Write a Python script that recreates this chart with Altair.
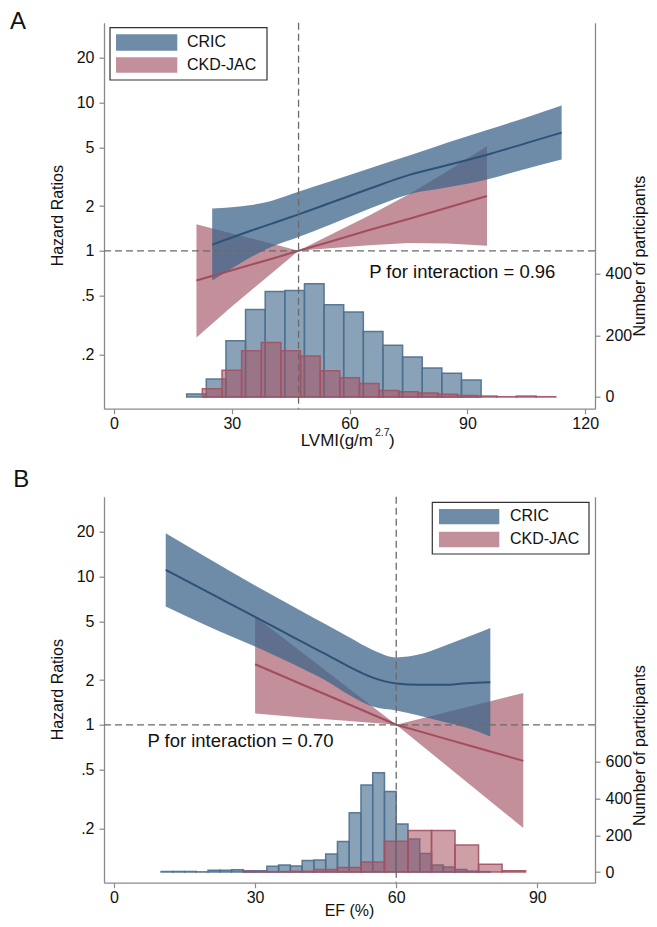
import altair as alt
import pandas as pd

FONT = "Liberation Sans"
W = 491            # plot width (both panels)
HP = 386           # height of one panel's plot area
GAP = 88           # distance between panel A bottom and panel B top
H = 2 * HP + GAP   # whole drawing area
A0, A1 = 0, HP            # panel A vertical pixel span
B0, B1 = HP + GAP, H      # panel B vertical pixel span

# ---------------- Panel A data (LVMI) ----------------
a_cric_x = [25, 30, 35, 40, 47, 55, 65, 75, 85, 95, 105, 114]
a_cric_hr = [1.10, 1.23, 1.37, 1.52, 1.76, 2.10, 2.62, 3.24, 3.79, 4.45, 5.33, 6.28]
a_cric_lo = [0.63, 0.76, 0.91, 1.06, 1.24, 1.50, 1.92, 2.40, 2.68, 3.03, 3.58, 4.13]
a_cric_hi = [1.93, 1.97, 2.04, 2.17, 2.50, 2.93, 3.59, 4.37, 5.37, 6.53, 7.94, 9.55]

a_jac_x = [21, 30, 40, 47, 55, 65, 75, 85, 95]
a_jac_hr = [0.63, 0.74, 0.88, 1.0, 1.15, 1.38, 1.64, 1.96, 2.34]
a_jac_lo = [0.26, 0.42, 0.70, 1.0, 1.04, 1.09, 1.13, 1.12, 1.08]
a_jac_hi = [1.51, 1.31, 1.12, 1.0, 1.28, 1.73, 2.40, 3.45, 5.09]

a_hist_width = 5
a_hist_cric_left = [18.5, 23.5, 28.5, 33.5, 38.5, 43.5, 48.5, 53.5, 58.5, 63.5,
                    68.5, 73.5, 78.5, 83.5, 88.5]
a_hist_cric_n = [10, 58, 182, 284, 342, 345, 367, 299, 276, 212, 168, 130, 94, 77, 55]
a_hist_jac_left = [22.5, 27.5, 32.5, 37.5, 42.5, 47.5, 52.5, 57.5, 62.5, 67.5,
                   72.5, 77.5, 82.5, 87.5, 92.5, 97.5, 102.5, 107.5]
a_hist_jac_n = [27, 87, 150, 177, 150, 133, 85, 62, 44, 21, 17, 13, 9, 5, 3, 1, 3, 1]

# ---------------- Panel B data (EF) ----------------
b_cric_x = [11, 20, 30, 40, 45, 50, 55, 60, 65, 70, 75, 80]
b_cric_hr = [11.1, 7.85, 5.35, 3.62, 3.00, 2.46, 2.08, 1.90, 1.86, 1.86, 1.91, 1.94]
b_cric_lo = [6.28, 4.62, 3.37, 2.40, 1.99, 1.59, 1.33, 1.25, 1.15, 1.05, 0.955, 0.834]
b_cric_hi = [19.6, 13.3, 8.69, 5.82, 4.76, 3.89, 3.20, 2.85, 2.99, 3.39, 3.89, 4.49]

b_jac_x = [30, 40, 50, 60, 70, 80, 87]
b_jac_hr = [2.56, 1.87, 1.37, 1.0, 0.813, 0.661, 0.571]
b_jac_lo = [1.19, 1.12, 1.06, 1.0, 0.552, 0.305, 0.201]
b_jac_hi = [5.37, 3.07, 1.75, 1.0, 1.20, 1.44, 1.64]

b_hist_cric_width = 2.5
b_hist_cric_left = [10, 12.5, 15, 17.5, 20, 22.5, 25, 27.5, 30, 32.5, 35, 37.5, 40, 42.5,
                    45, 47.5, 50, 52.5, 55, 57.5, 60, 62.5, 65, 67.5, 70, 72.5, 75, 77.5]
b_hist_cric_n = [3, 3, 3, 1, 9, 9, 12, 7, 7, 31, 38, 33, 62, 65,
                 98, 166, 322, 473, 540, 437, 261, 179, 101, 38, 27, 14, 5, 2]
b_hist_jac_width = 5
b_hist_jac_left = [27.5, 32.5, 37.5, 42.5, 47.5, 52.5, 57.5, 62.5, 67.5, 72.5, 77.5, 82.5]
b_hist_jac_n = [3, 2, 4, 14, 25, 54, 167, 225, 226, 147, 42, 7]

groups = ["CRIC", "CKD-JAC"]
hr_ticks = [0.2, 0.5, 1, 2, 5, 10, 20]

# ---------------- styles ----------------
C_BAND = {"CRIC": "#3e6589", "CKD-JAC": "#9b4456"}
O_BAND = {"CRIC": 0.75, "CKD-JAC": 0.6}
C_LINE = {"CRIC": "#2c5278", "CKD-JAC": "#a24d5e"}
C_HIST = {"CRIC": "#5b7e9b", "CKD-JAC": "#a85060"}
O_HIST = {"CRIC": 0.72, "CKD-JAC": 0.55}
C_HIST_EDGE = {"CRIC": "#4b6f8e", "CKD-JAC": "#a25262"}
C_AXIS = "#8a8a8a"
C_REF = "#6a6a6a"
C_TEXT = "#111111"


def curve_df(x, hr, lo, hi):
    return pd.DataFrame({"x": x, "hr": hr, "lo": lo, "hi": hi})


def hist_df(left, n, width):
    return pd.DataFrame({"x0": left, "x1": [v + width for v in left], "n": n, "b": [0] * len(n)})


def label(txt, x, y, size=16, align="left", baseline="alphabetic", angle=None):
    kw = dict(align=align, baseline=baseline, fontSize=size, color=C_TEXT)
    if angle is not None:
        kw["angle"] = angle
    return (alt.Chart(pd.DataFrame({"t": [txt]}))
            .mark_text(**kw)
            .encode(x=alt.value(x), y=alt.value(y), text="t:N"))


def panel(cfg):
    top, bot = cfg["span"]
    xs = alt.Scale(domain=cfg["xdom"], range=[0, W], nice=False, zero=False)
    xaxis = alt.Axis(orient="bottom", values=cfg["xticks"], format="d", tickSize=5,
                     labelPadding=2, labelFontSize=16, title=None, offset=bot - H,
                     labelFlush=False)
    hs = alt.Scale(type="log", domain=[0.086, 34.6], range=[bot, top], nice=False)
    haxis = alt.Axis(orient="left", values=hr_ticks, title=None,
                     labelExpr="datum.value < 1 ? replace(format(datum.value, '.1f'), '0.', '.') : format(datum.value, 'd')",
                     tickSize=5, labelPadding=5)
    cs = alt.Scale(domain=cfg["cdom"], range=[bot, top], nice=False, zero=False)
    caxis = alt.Axis(orient="right", values=cfg["cticks"], format="d", title=None,
                     tickSize=5, labelPadding=5)

    def X(f, axis=True):
        return alt.X(f, type="quantitative", scale=xs, axis=xaxis if axis else None)

    def YH(f):
        return alt.Y(f, type="quantitative", scale=hs, axis=haxis)

    # histograms (right axis)
    hist_layers = []
    for g in groups:
        d = cfg["hist"][g]
        hist_layers.append(
            alt.Chart(d).mark_rect(fill=C_HIST[g], fillOpacity=O_HIST[g],
                                   stroke=C_HIST_EDGE[g], strokeWidth=1.5, strokeOpacity=0.9)
            .encode(x=X("x0", axis=False), x2="x1:Q",
                    y=alt.Y("n:Q", scale=cs, axis=caxis), y2="b:Q")
        )
    count_layer = alt.layer(*hist_layers)

    # HR curves (left axis)
    layers = []
    for g in ["CKD-JAC", "CRIC"]:
        d = cfg["curve"][g]
        interp = "monotone" if g == "CRIC" else "linear"
        layers.append(
            alt.Chart(d).mark_area(color=C_BAND[g], opacity=O_BAND[g], interpolate=interp)
            .encode(x=X("x"), y=YH("lo"), y2="hi:Q")
        )
    for g in ["CKD-JAC", "CRIC"]:
        d = cfg["curve"][g]
        interp = "monotone" if g == "CRIC" else "linear"
        layers.append(
            alt.Chart(d).mark_line(color=C_LINE[g], strokeWidth=2, interpolate=interp)
            .encode(x=X("x"), y=YH("hr"))
        )
    layers.append(
        alt.Chart(pd.DataFrame({"x": [cfg["vline"]]}))
        .mark_rule(color=C_REF, strokeDash=[7, 4], strokeWidth=1.3)
        .encode(x=X("x"), y=alt.value(top), y2=alt.value(bot))
    )
    layers.append(
        alt.Chart(pd.DataFrame({"y": [1.0]}))
        .mark_rule(color=C_REF, strokeDash=[7, 4], strokeWidth=1.3)
        .encode(y=YH("y"), x=alt.value(0), x2=alt.value(W))
    )
    layers.append(
        alt.Chart(pd.DataFrame({"x": [cfg["p_pos"][0]], "y": [cfg["p_pos"][1]], "t": [cfg["p_text"]]}))
        .mark_text(align="left", baseline="middle", fontSize=18.5, color=C_TEXT)
        .encode(x=X("x"), y=YH("y"), text="t:N")
    )
    # legend (drawn box)
    lg = cfg["legend"]
    layers.append(
        alt.Chart(pd.DataFrame({"k": [0]}))
        .mark_rect(fill="white", stroke="#333333", strokeWidth=1.2)
        .encode(x=alt.value(lg["box"][0]), x2=alt.value(lg["box"][1]),
                y=alt.value(top + lg["box"][2]), y2=alt.value(top + lg["box"][3]))
    )
    for i, g in enumerate(groups):
        sy0, sy1 = lg["sw_y"][i]
        layers.append(
            alt.Chart(pd.DataFrame({"k": [g]}))
            .mark_rect(fill=C_BAND[g], opacity=O_BAND[g])
            .encode(x=alt.value(lg["sw_x"][0]), x2=alt.value(lg["sw_x"][1]),
                    y=alt.value(top + sy0), y2=alt.value(top + sy1))
        )
        layers.append(label(g, lg["tx"], top + lg["ty"][i], baseline="middle"))
    # panel letter
    layers.append(label(cfg["letter"], cfg["letter_pos"][0], top + cfg["letter_pos"][1], size=24))
    # axis titles as text
    layers.append(label("Hazard Ratios", -46.5, top + HP / 2, align="center",
                        baseline="middle", angle=270))
    layers.append(label("Number of participants", W + 45, top + cfg["ctitle_y"],
                        align="center", baseline="middle", angle=270))
    for piece in cfg["xtitle_pieces"]:
        txt, px, py, fs, al, bl = piece
        layers.append(label(txt, px, top + py, size=fs, align=al, baseline=bl))
    hr_layer = alt.layer(*layers)
    return [count_layer, hr_layer]


cfgA = dict(
    span=(A0, A1),
    xdom=[-2.55, 122.5], xticks=[0, 30, 60, 90, 120],
    cdom=[-38, 1214], cticks=[0, 200, 400], ctitle_y=233.5,
    hist={"CRIC": hist_df(a_hist_cric_left, a_hist_cric_n, a_hist_width),
          "CKD-JAC": hist_df(a_hist_jac_left, a_hist_jac_n, a_hist_width)},
    curve={"CRIC": curve_df(a_cric_x, a_cric_hr, a_cric_lo, a_cric_hi),
           "CKD-JAC": curve_df(a_jac_x, a_jac_hr, a_jac_lo, a_jac_hi)},
    vline=47, p_text="P for interaction = 0.96", p_pos=(65.0, 0.718),
    legend=dict(box=(6, 163, 5, 57.3), sw_x=(12, 73.3), sw_y=[(11.6, 28), (34.6, 50)],
                tx=83, ty=[19, 42]),
    letter="A", letter_pos=(-94, 6.3),
    xtitle_pieces=[("LVMI(g/m", 269, 423, 17, "right", "alphabetic"),
                   ("2.7", 271, 413.5, 10.5, "left", "alphabetic"),
                   (")", 285, 423, 17, "left", "alphabetic")],
)
cfgB = dict(
    span=(B0, B1),
    xdom=[-2.12, 102.25], xticks=[0, 30, 60, 90],
    cdom=[-58, 2040], cticks=[0, 200, 400, 600], ctitle_y=249,
    hist={"CRIC": hist_df(b_hist_cric_left, b_hist_cric_n, b_hist_cric_width),
          "CKD-JAC": hist_df(b_hist_jac_left, b_hist_jac_n, b_hist_jac_width)},
    curve={"CRIC": curve_df(b_cric_x, b_cric_hr, b_cric_lo, b_cric_hi),
           "CKD-JAC": curve_df(b_jac_x, b_jac_hr, b_jac_lo, b_jac_hi)},
    vline=60, p_text="P for interaction = 0.70", p_pos=(7.1, 0.78),
    legend=dict(box=(328.3, 485, 5.6, 57.3), sw_x=(335, 395.3), sw_y=[(12.3, 27.6), (35, 50.6)],
                tx=406, ty=[19.8, 42]),
    letter="B", letter_pos=(-90.7, -10),
    xtitle_pieces=[("EF (%)", W / 2, HP + 28, 16, "center", "middle")],
)

chart = (alt.layer(*(panel(cfgA) + panel(cfgB)))
         .resolve_scale(x="independent", y="independent")
         .properties(width=W, height=H,
                     autosize=alt.AutoSizeParams(type="none"),
                     padding={"left": 96, "top": 14.7, "right": 54, "bottom": 36})
         .configure(font=FONT)
         .configure_view(stroke=None)
         .configure_axis(domainColor=C_AXIS, tickColor=C_AXIS, domainWidth=1.3, tickWidth=1.2,
                         labelColor=C_TEXT, titleColor=C_TEXT, labelFontSize=16,
                         titleFontSize=16, titleFontWeight="normal", grid=False))

chart.save("out.html", embed_options={"renderer": "svg", "actions": False})
